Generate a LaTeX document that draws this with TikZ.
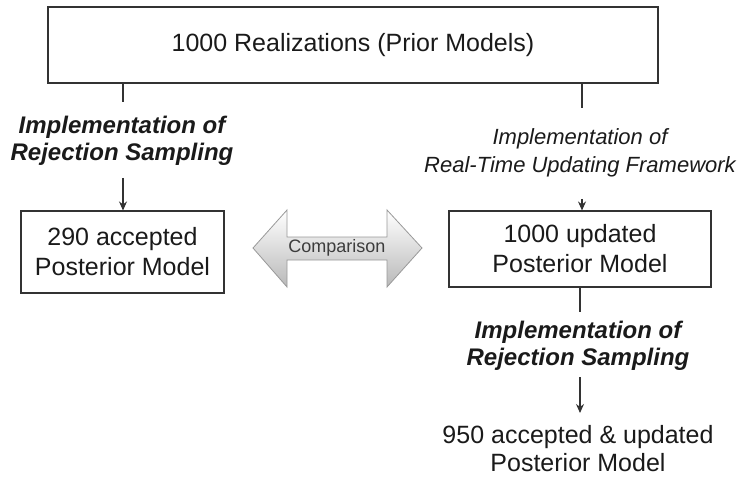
\documentclass[tikz,border=0pt]{standalone}
\usepackage{fontspec}
\setmainfont{Liberation Sans}
\usetikzlibrary{arrows.meta}
\definecolor{linec}{HTML}{333333}
\definecolor{textc}{HTML}{1A1A1A}
\begin{document}
\begin{tikzpicture}[x=1pt,y=-1pt,
  boxstyle/.style={draw=linec,line width=1.1pt,rectangle,inner sep=0pt,align=center,text=textc,font=\fontsize{25}{30}\selectfont},
  plaintext/.style={align=center,text=textc,font=\fontsize{25}{28}\selectfont,inner sep=0pt},
  bilabel/.style={align=center,text=textc,font=\fontsize{24}{27}\selectfont\bfseries\itshape,inner sep=0pt},
  itlabel/.style={align=center,text=textc,font=\fontsize{22}{28}\selectfont\itshape,inner sep=0pt},
  conn/.style={draw=linec,line width=1.1pt},
  arr/.style={conn,-{Stealth[length=9pt,width=8pt]}}]
\useasboundingbox (0,0) rectangle (744,481);

\node[boxstyle,minimum width=610pt,minimum height=76pt] (top) at (353,45) {1000 Realizations (Prior Models)};
\node[boxstyle,minimum width=203pt,minimum height=82pt] (lbox) at (122.5,252) {290 accepted\\Posterior Model};
\node[boxstyle,minimum width=262pt,minimum height=76pt] (rbox) at (580,249) {1000 updated\\Posterior Model};

\node[bilabel] (llab) at (122,141) {Implementation of\\Rejection Sampling};
\node[itlabel] (rlab) at (580,153) {Implementation of\\Real-Time Updating Framework};
\node[bilabel] (blab) at (578,346) {Implementation of\\Rejection Sampling};
\node[plaintext] (final) at (578,449) {950 accepted \& updated\\Posterior Model};

% left chain
\coordinate (l1) at (123,83);
\coordinate (l2) at (123,102);
\coordinate (l3) at (123,178);
\draw[conn] (l1) -- (l2);
\draw[arr] (l3) -- (l3 |- lbox.north);

% right chain
\coordinate (r1) at (582,83);
\coordinate (r2) at (582,108);
\coordinate (r3) at (582,199);
\draw[conn] (r1) -- (r2);
\draw[arr] (r3) -- (r3 |- rbox.north);

% bottom chain
\coordinate (b1) at (580,287);
\coordinate (b2) at (580,312);
\coordinate (b3) at (580,377);
\coordinate (b4) at (580,413);
\draw[conn] (b1) -- (b2);
\draw[arr] (b3) -- (b4);

% comparison double arrow
\draw[draw=gray!80,line width=0.8pt,top color=white,bottom color=gray!55]
  (253,248) -- (287,210) -- (287,237) -- (387,237) -- (387,210) -- (422,248)
  -- (387,287) -- (387,260) -- (287,260) -- (287,287) -- cycle;
\node[text=textc!85,font=\fontsize{18}{20}\selectfont,inner sep=0pt] (cmp) at (337,248) {Comparison};
\end{tikzpicture}
\end{document}
